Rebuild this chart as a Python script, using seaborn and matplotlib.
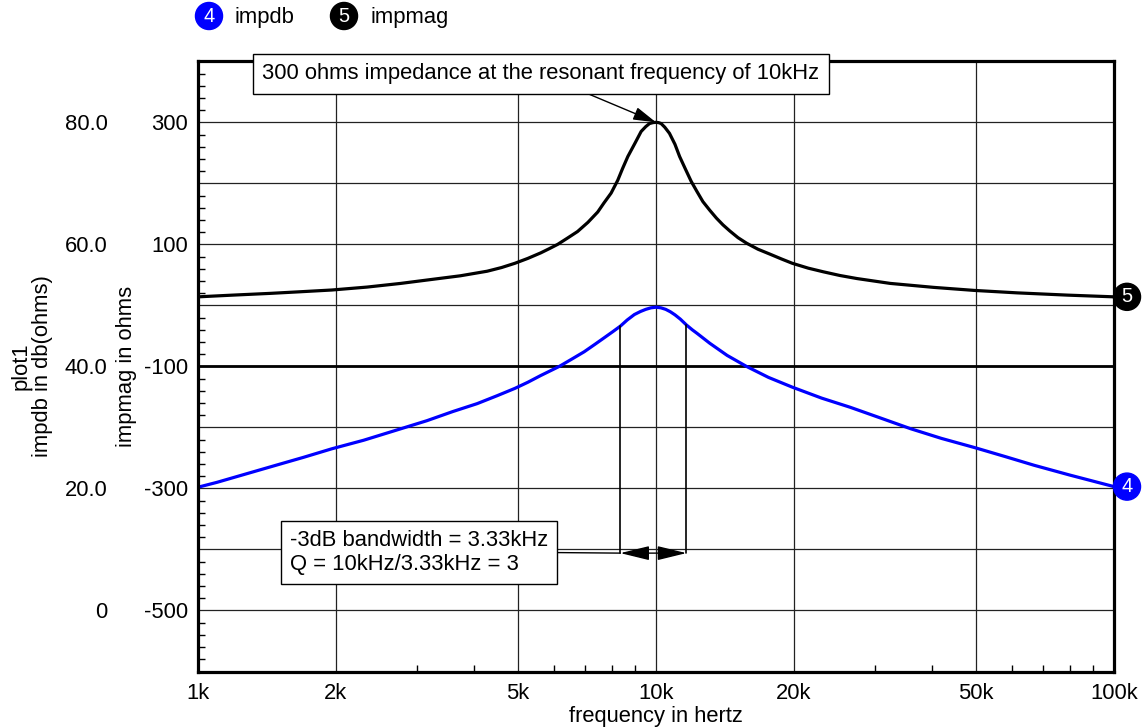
import numpy as np
import matplotlib
matplotlib.use("Agg")
import matplotlib.pyplot as plt
import matplotlib.ticker as mticker
import seaborn as sns

# impdb readings (blue trace, left dB scale)
freq_db = [1.0e3, 1.1e3, 1.21e3, 1.48e3, 1.7e3, 1.96e3, 2.3e3, 2.67e3, 3.16e3, 3.6e3,
           4.07e3, 4.5e3, 4.92e3, 5.25e3, 5.6e3, 6.15e3, 6.55e3, 6.97e3, 7.35e3, 7.71e3,
           8.05e3, 8.36e3, 8.65e3, 8.97e3, 9.25e3, 9.5e3, 9.75e3, 10.0e3, 10.25e3,
           10.5e3, 10.75e3, 11.0e3, 11.3e3, 11.65e3, 12.0e3, 12.3e3, 13.1e3, 14.3e3,
           15.76e3, 17.6e3, 19.84e3, 23.0e3, 26.55e3, 30.5e3, 35.93e3, 42.0e3, 49.6e3,
           58.0e3, 66.9e3, 80.0e3, 100e3]
impdb = [20.2, 21.0, 21.9, 23.8, 25.1, 26.5, 27.9, 29.4, 31.1, 32.6,
         33.9, 35.2, 36.4, 37.4, 38.5, 40.0, 41.2, 42.4, 43.6, 44.7,
         45.7, 46.6, 47.6, 48.5, 49.0, 49.35, 49.6, 49.7, 49.6,
         49.35, 48.95, 48.45, 47.75, 46.8, 46.0, 45.4, 43.8, 41.8,
         40.0, 38.2, 36.6, 34.8, 33.3, 31.7, 29.8, 28.2, 26.7,
         25.2, 23.8, 22.2, 20.3]

# impmag readings (black trace, ohms)
freq_mag = [1.0e3, 1.19e3, 1.44e3, 1.67e3, 1.96e3, 2.34e3, 2.77e3, 3.16e3, 3.74e3,
            4.28e3, 4.6e3, 4.92e3, 5.25e3, 5.6e3, 5.85e3, 6.1e3, 6.4e3, 6.74e3, 7.1e3,
            7.46e3, 7.7e3, 7.98e3, 8.25e3, 8.45e3, 8.68e3, 9.0e3, 9.28e3, 9.5e3,
            9.68e3, 9.85e3, 10.0e3, 10.13e3, 10.26e3, 10.45e3, 10.7e3, 11.0e3, 11.26e3,
            11.6e3, 11.94e3, 12.3e3, 12.66e3, 13.1e3, 13.55e3, 14.0e3, 14.49e3, 15.1e3,
            15.76e3, 16.7e3, 17.73e3, 18.8e3, 19.84e3, 21.5e3, 23.2e3, 25.2e3, 27.45e3,
            32.47e3, 40.4e3, 49.6e3, 61.5e3, 79.2e3, 100e3]
impmag = [14, 16.8, 19.7, 22.3, 25.2, 30, 36, 41.5, 48.5,
          56, 62, 69, 77, 86, 93, 100, 110, 121, 136,
          153, 168, 184, 205, 224, 244, 266, 285, 293,
          298, 299.5, 300, 299.5, 298, 292, 282, 264, 244,
          223, 203, 186, 170, 156, 143, 132, 122, 111,
          102, 92, 84, 76, 69, 61, 55, 49, 44,
          36, 29.5, 24.5, 20.5, 16.8, 14]

xtick_vals = [1e3, 2e3, 5e3, 1e4, 2e4, 5e4, 1e5]
xtick_labels = ["1k", "2k", "5k", "10k", "20k", "50k", "100k"]
db_labels = {0: "0", 20: "20.0", 40: "40.0", 60: "60.0", 80: "80.0"}
mag_ticks = [-500, -300, -100, 100, 300]
mag_labels = ["-500", "-300", "-100", "100", "300"]

f_res, z_res = 1e4, 300
bw_lo, bw_hi = 8.36e3, 11.65e3
arrow_db = 9.4

sns.set_theme(style="white")
plt.rcParams["font.family"] = ["Liberation Sans", "DejaVu Sans"]
FS = 15.8

W, H = 1143, 727
fig = plt.figure(figsize=(W / 100, H / 100), dpi=100)
ax = fig.add_axes([198 / W, 1 - 671.5 / H, 916 / W, 610.2 / H])

sns.lineplot(x=freq_db, y=impdb, ax=ax, color="#0000ff", lw=2.3)
ax.set_xscale("log")
ax.set_xlim(1e3, 1e5)
ax.set_ylim(-10, 90)
ax.axhline(40, color="black", lw=2.0, zorder=1.5)

ax.xaxis.set_major_locator(mticker.FixedLocator(xtick_vals))
ax.xaxis.set_major_formatter(mticker.FixedFormatter(xtick_labels))
ax.xaxis.set_minor_locator(mticker.LogLocator(base=10, subs=[3, 4, 6, 7, 8, 9]))
ax.xaxis.set_minor_formatter(mticker.NullFormatter())
ax.yaxis.set_major_locator(mticker.MultipleLocator(10))
ax.yaxis.set_minor_locator(mticker.MultipleLocator(2))
ax.yaxis.set_major_formatter(mticker.FuncFormatter(lambda v, p: db_labels.get(int(round(v)), "")))

ax.grid(True, which="major", color="#222222", lw=0.9)
ax.tick_params(which="both", direction="in", bottom=True, left=True, top=False, right=False,
               color="black", width=1)
ax.tick_params(which="major", length=0, labelsize=FS, labelcolor="black")
ax.tick_params(which="minor", length=5)
ax.tick_params(axis="y", which="major", pad=65)
ax.tick_params(axis="x", which="major", pad=8)
for s in ax.spines.values():
    s.set_color("black")
    s.set_linewidth(2.3)

ax.set_xlabel("frequency in hertz", fontsize=FS, color="black", labelpad=2)
ax.set_ylabel("plot1\nimpdb in db(ohms)", fontsize=FS, color="black", linespacing=1.05)
ax.yaxis.set_label_coords(-0.158, 0.5)

# impmag on its own scale, labels on the left as well
ax2 = ax.twinx()
sns.lineplot(x=freq_mag, y=impmag, ax=ax2, color="black", lw=2.3)
ax2.set_ylim(-600, 400)
ax2.set_yticks(mag_ticks)
ax2.set_yticklabels(mag_labels)
ax2.yaxis.tick_left()
ax2.yaxis.set_label_position("left")
ax2.tick_params(axis="y", length=0, pad=7, labelsize=FS, labelcolor="black")
ax2.grid(False)
for s in ax2.spines.values():
    s.set_visible(False)
ax2.set_ylabel("impmag in ohms", fontsize=FS, color="black")
ax2.yaxis.set_label_coords(-0.0666, 0.5)

# resonance note
ax2.annotate("300 ohms impedance at the resonant frequency of 10kHz",
             xy=(f_res, z_res), xycoords="data",
             xytext=(541, H - 74), textcoords="figure pixels",
             ha="center", va="center", fontsize=FS, color="black",
             bbox=dict(boxstyle="square,pad=0.42", fc="white", ec="black", lw=1),
             arrowprops=dict(arrowstyle="-|>,head_length=0.7,head_width=0.2",
                             color="black", lw=1, mutation_scale=20,
                             shrinkA=0, shrinkB=0),
             zorder=5)

# -3dB bandwidth markers
lvl_lo = np.interp(np.log10(bw_lo), np.log10(freq_db), impdb)
lvl_hi = np.interp(np.log10(bw_hi), np.log10(freq_db), impdb)
ax.plot([bw_lo, bw_lo], [arrow_db, lvl_lo], color="black", lw=1.2)
ax.plot([bw_hi, bw_hi], [arrow_db, lvl_hi], color="black", lw=1.2)
ax.annotate("", xy=(bw_lo, arrow_db), xytext=(bw_hi, arrow_db),
            arrowprops=dict(arrowstyle="<|-|>,head_length=0.9,head_width=0.22",
                            color="black", lw=1, mutation_scale=20,
                            shrinkA=0, shrinkB=0))
ax.annotate("-3dB bandwidth = 3.33kHz\nQ = 10kHz/3.33kHz = 3",
            xy=(bw_lo, arrow_db), xycoords="data",
            xytext=(290, H - 552.5), textcoords="figure pixels",
            ha="left", va="center", fontsize=FS, color="black", linespacing=1.15,
            bbox=dict(boxstyle="square,pad=0.42", fc="white", ec="black", lw=1),
            arrowprops=dict(arrowstyle="-", color="black", lw=1, relpos=(1, 0.5),
                            shrinkA=0, shrinkB=0),
            zorder=5)

# trace badges at the right edge
badge = dict(ha="center", va="center", fontsize=14.5, color="white")
ax2.annotate("5", xy=(freq_mag[-1], impmag[-1]), xytext=(13, 0), textcoords="offset pixels",
             bbox=dict(boxstyle="circle,pad=0.2", fc="black", ec="black"),
             annotation_clip=False, **badge)
ax.annotate("4", xy=(freq_db[-1], impdb[-1]), xytext=(13, 0), textcoords="offset pixels",
            bbox=dict(boxstyle="circle,pad=0.2", fc="#0000ff", ec="#0000ff"),
            annotation_clip=False, zorder=6, **badge)

# legend along the top
fig.text(209 / W, 1 - 16 / H, "4", bbox=dict(boxstyle="circle,pad=0.2", fc="#0000ff", ec="#0000ff"), **badge)
fig.text(235 / W, 1 - 17 / H, "impdb", ha="left", va="center", fontsize=FS, color="black")
fig.text(344 / W, 1 - 16 / H, "5", bbox=dict(boxstyle="circle,pad=0.2", fc="black", ec="black"), **badge)
fig.text(370 / W, 1 - 17 / H, "impmag", ha="left", va="center", fontsize=FS, color="black")

fig.savefig("out.png", dpi=100)
